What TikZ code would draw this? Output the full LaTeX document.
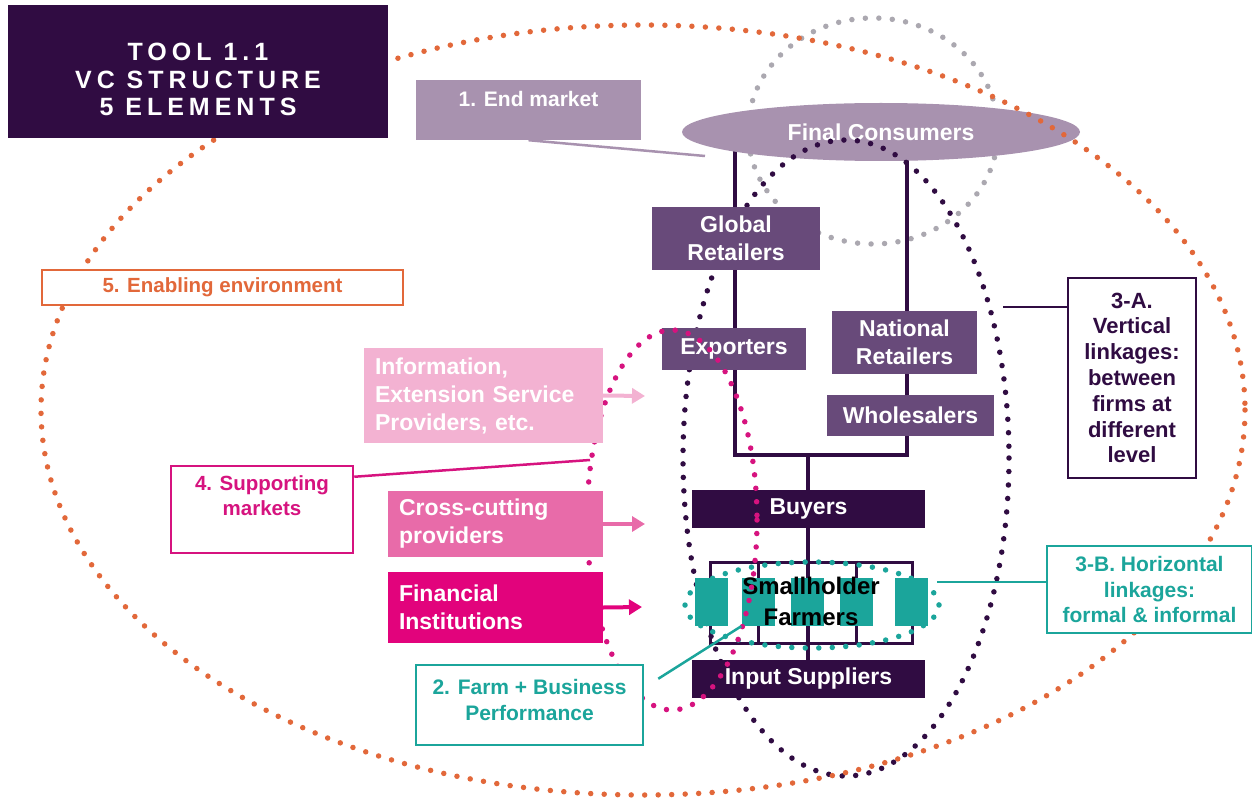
\documentclass[tikz,border=0pt]{standalone}
\usepackage{fontspec}
\setmainfont{Liberation Sans}
\usetikzlibrary{arrows.meta,shapes.geometric,backgrounds}

\definecolor{deep}{HTML}{300C42}
\definecolor{plum}{HTML}{684A7A}
\definecolor{mauve}{HTML}{A892AF}
\definecolor{fog}{HTML}{ABA8B0}
\definecolor{farmteal}{HTML}{1BA59B}
\definecolor{envorange}{HTML}{E2683A}
\definecolor{suppmag}{HTML}{D6137F}
\definecolor{infopink}{HTML}{F3B2D2}
\definecolor{crosspink}{HTML}{E86BA9}
\definecolor{finmag}{HTML}{E2037C}

\newcommand{\chainfont}{\bfseries\fontsize{23}{28}\selectfont}
\newcommand{\notefont}{\bfseries\fontsize{21}{25.5}\selectfont}

\tikzset{
  chainbox/.style={fill=#1, text=white, font=\chainfont, align=center, inner sep=0pt},
  notebox/.style={draw=#1, text=#1, fill=white, line width=2.5pt, font=\notefont, align=center, inner sep=0pt},
  servbox/.style={fill=#1, text=white, font=\chainfont, align=left, inner xsep=11pt, inner ysep=0pt},
  dots/.style={draw=#1, line width=5.5pt, line cap=round, dash pattern=on 0pt off 13.5pt},
  chain/.style={draw=deep, line width=4pt},
  link/.style={draw=#1, line width=2.5pt},
  feed/.style={draw=#1, line width=4pt, -{Triangle[length=13pt,width=15pt]}},
}

\begin{document}
\begin{tikzpicture}[x=1pt,y=-1pt]
\useasboundingbox (0,0) rectangle (1252,802);

% end market
\node[ellipse, fill=mauve, text=white, font=\chainfont, minimum width=398pt, minimum height=58pt, inner sep=0pt] (fc) at (881,132) {Final Consumers};
\draw[dots=deep] (846,458) ellipse [x radius=163, y radius=318];

% value chain actors
\node[chainbox=plum, minimum width=168pt, minimum height=63pt] (gr) at (736,238.5) {Global\\Retailers};
\node[chainbox=plum, minimum width=144pt, minimum height=42pt] (ex) at (734,349) {Exporters};
\node[chainbox=plum, minimum width=145pt, minimum height=63pt] (nr) at (904.5,342.5) {National\\Retailers};
\node[chainbox=plum, minimum width=167pt, minimum height=41pt] (wh) at (910.5,415.5) {Wholesalers};
\node[chainbox=deep, minimum width=233pt, minimum height=38pt] (bu) at (808.5,509) {Buyers};
\node[draw=deep, line width=3pt, minimum width=202pt, minimum height=81pt, inner sep=0pt] (sf) at (811,602.5) {};
\node[chainbox=deep, minimum width=233pt, minimum height=38pt] (is) at (808.5,679) {Input Suppliers};
\foreach \x [count=\i] in {711,758,807,856,911}
  \node[fill=farmteal, minimum width=33pt, minimum height=48pt, inner sep=0pt] (blk\i) at (\x,602) {};
\node[font=\bfseries\fontsize{24}{31}\selectfont, align=center, inner sep=0pt] (sftext) at (811,601) {Smallholder\\Farmers};

\begin{scope}[on background layer]
\draw[dots=fog] (873,131) ellipse [x radius=125, y radius=113];
\coordinate (jl) at (735,455);
\coordinate (jr) at (907,455);
\coordinate (jm) at (808,455);
\draw[chain] (jl |- fc) -- (jl) -- (jr) -- (jr |- fc);
\draw[chain] (jm) -- (jm |- is);
\foreach \i in {2,3,4}
  \draw[deep, line width=3pt] (blk\i |- sf.north) -- (blk\i |- sf.south);
\end{scope}

% linkages
\draw[dots=envorange] (643,410) ellipse [x radius=602, y radius=385];
\draw[dots=farmteal] (812,605) ellipse [x radius=127, y radius=43];
\draw[dots=suppmag] (672,520) ellipse [x radius=85, y radius=190];

% labels
\node[fill=deep, text=white, minimum width=380pt, minimum height=133pt, align=center, inner sep=0pt,
  text height=89pt, text depth=0pt,
  font={\fontsize{25}{27.5}\selectfont\bfseries\addfontfeature{LetterSpace=20}}] (title) at (198,71.5) {TOOL 1.1\\VC STRUCTURE\\5 ELEMENTS};
\node[fill=mauve, text=white, font=\bfseries\fontsize{21}{25}\selectfont, minimum width=225pt, minimum height=60pt,
  inner sep=0pt, text height=15pt, text depth=21pt] (em) at (528.5,110) {1. End market};
\node[notebox=deep, minimum width=128pt, minimum height=200pt, font=\bfseries\fontsize{22}{25.8}\selectfont] (vl) at (1132,378) {3-A.\\Vertical\\linkages:\\between\\firms at\\different\\level};
\node[notebox=farmteal, minimum width=205pt, minimum height=87pt] (hl) at (1149.5,589.5) {3-B. Horizontal\\linkages:\\formal \& informal};
\node[notebox=farmteal, minimum width=227pt, minimum height=80pt, text depth=10pt] (fb) at (529.5,705) {2. Farm + Business\\Performance};
\node[notebox=envorange, minimum width=361pt, minimum height=35pt, font=\bfseries\fontsize{20.5}{24}\selectfont] (ee) at (222.5,287.5) {5. Enabling environment};
\node[notebox=suppmag, minimum width=182pt, minimum height=87pt, text height=40pt, text depth=29pt,
  font=\bfseries\fontsize{20.5}{25}\selectfont] (sm) at (262,509.5) {4. Supporting\\markets};

% supporting services
\node[servbox=infopink, text width=217pt, minimum height=95pt] (ip) at (483.5,395.5) {Information,\\Extension Service\\Providers, etc.};
\node[servbox=crosspink, text width=193pt, minimum height=66pt] (cp) at (495.5,524) {Cross-cutting\\providers};
\node[servbox=finmag, text width=193pt, minimum height=71pt] (fp) at (495.5,607.5) {Financial\\Institutions};

\coordinate (ipend) at (645,396);
\coordinate (cpend) at (645,524);
\coordinate (fpend) at (642,607);
\draw[feed=infopink] (ip.east) -- (ipend);
\draw[feed=crosspink] (cp.east) -- (cpend);
\draw[feed=finmag] (fp.east) -- (fpend);

% connectors
\coordinate (emend) at (705,156);
\coordinate (vlend) at (1003,307);
\coordinate (hlend) at (937,582);
\coordinate (smend) at (590,460);
\draw[link=mauve] (em.south) -- (emend);
\draw[link=deep] (vlend) -- (vl.west |- vlend);
\draw[link=farmteal] (hlend) -- (hl.west |- hlend);
\draw[link=farmteal] ([shift={(14pt,-15pt)}]fb.north east) -- (blk2.south west);
\draw[link=suppmag] ([yshift=-12pt]sm.north east) -- (smend);
\end{tikzpicture}
\end{document}
